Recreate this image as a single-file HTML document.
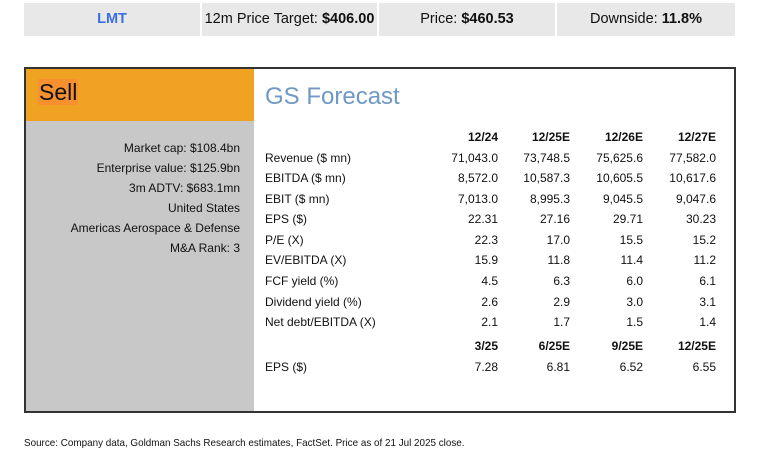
<!DOCTYPE html>
<html><head><style>
*{margin:0;padding:0;box-sizing:border-box}
body{width:757px;height:468px;background:#fff;font-family:"Liberation Sans",sans-serif;position:relative;overflow:hidden;color:#111}
.cell{position:absolute;top:3px;height:33px;background:#e8e8e8;font-size:14.5px;line-height:33px;text-align:center}
.box{position:absolute;left:24px;top:67px;width:712px;height:346px;border:2px solid #333}
.sell{position:absolute;left:0;top:0;width:228px;height:52px;background:#f0a323}
.sell span{position:absolute;left:12px;top:10px;font-size:23px;background:#f7912f;line-height:26px;padding:0 1px}
.gray{position:absolute;left:0;top:52px;width:228px;height:290px;background:#c8c8c9}
.gray div{position:absolute;right:14px;font-size:12px;white-space:nowrap}
.gs{position:absolute;left:239px;top:14px;font-size:24px;color:#6f98c6}
.r{position:absolute;font-size:12px;white-space:nowrap}
.v{text-align:right;width:80px}
.b{font-weight:bold}
.foot{position:absolute;left:24px;top:437px;font-size:10.5px;transform:scaleX(0.94);transform-origin:left top;white-space:nowrap}
</style></head><body>
<div class="cell" style="left:24px;width:176px;color:#3a6fe0;font-weight:bold">LMT</div>
<div class="cell" style="left:202px;width:175px">12m Price Target: <b>$406.00</b></div>
<div class="cell" style="left:379px;width:176px">Price: <b>$460.53</b></div>
<div class="cell" style="left:557px;width:178px">Downside: <b>11.8%</b></div>
<div class="box">
<div class="sell"><span>Sell</span></div>
<div class="gray">
<div style="top:20px">Market cap: $108.4bn</div>
<div style="top:40px">Enterprise value: $125.9bn</div>
<div style="top:60px">3m ADTV: $683.1mn</div>
<div style="top:80px">United States</div>
<div style="top:100px">Americas Aerospace &amp; Defense</div>
<div style="top:120px">M&amp;A Rank: 3</div>
</div>
<div class="gs">GS Forecast</div>
<div id="t"></div>
</div>
<div class="foot">Source: Company data, Goldman Sachs Research estimates, FactSet. Price as of 21 Jul 2025 close.</div>
<script>
var rows=[["",["12/24","12/25E","12/26E","12/27E"],1],
["Revenue ($ mn)",["71,043.0","73,748.5","75,625.6","77,582.0"]],
["EBITDA ($ mn)",["8,572.0","10,587.3","10,605.5","10,617.6"]],
["EBIT ($ mn)",["7,013.0","8,995.3","9,045.5","9,047.6"]],
["EPS ($)",["22.31","27.16","29.71","30.23"]],
["P/E (X)",["22.3","17.0","15.5","15.2"]],
["EV/EBITDA (X)",["15.9","11.8","11.4","11.2"]],
["FCF yield (%)",["4.5","6.3","6.0","6.1"]],
["Dividend yield (%)",["2.6","2.9","3.0","3.1"]],
["Net debt/EBITDA (X)",["2.1","1.7","1.5","1.4"]],
["",["3/25","6/25E","9/25E","12/25E"],1],
["EPS ($)",["7.28","6.81","6.52","6.55"]]];
var tops=[61,82,102,123,143,164,184,205,226,246,270,291];
var rights=[472,544,617,690];
var h="";
rows.forEach(function(r,i){
 if(r[0])h+='<div class="r" style="left:239px;top:'+tops[i]+'px">'+r[0]+'</div>';
 r[1].forEach(function(v,j){h+='<div class="r v'+(r[2]?' b':'')+'" style="left:'+(rights[j]-80)+'px;top:'+tops[i]+'px">'+v+'</div>';});
});
document.getElementById('t').innerHTML=h;
</script>
</body></html>
